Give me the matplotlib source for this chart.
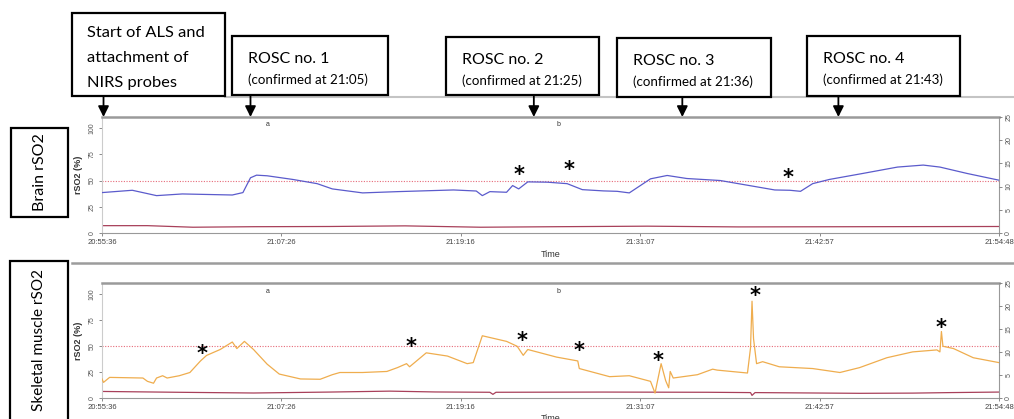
import numpy as np
import matplotlib
matplotlib.use("Agg")
import matplotlib.pyplot as plt
from matplotlib.patches import Rectangle
from matplotlib.lines import Line2D

# time axis: minutes after 20:55:36
t_end = 59.2
time_labels = ["20:55:36", "21:07:26", "21:19:16", "21:31:07", "21:42:57", "21:54:48"]

# brain rSO2 (%)
brain_t = [0, 2.0, 3.6, 5.3, 8.6, 9.3, 9.8, 10.2, 10.9, 12.6, 14.2, 15.2, 17.2, 19.5,
           23.2, 24.7, 25.1, 25.6, 26.7, 27.1, 27.5, 28.1, 29.4, 30.7, 31.7, 33.1, 34.0,
           34.8, 36.2, 37.3, 38.6, 40.8, 42.8, 44.4, 45.4, 46.1, 46.9, 48.0, 50.2, 52.5,
           54.2, 55.3, 57.1, 59.2]
brain_v = [38.5, 40.7, 35.6, 37.2, 36.2, 38.5, 52.6, 55.1, 54.5, 51.0, 47.0, 42.0, 38.2, 39.4,
           41.0, 40.0, 35.6, 39.4, 38.8, 45.2, 42.0, 48.7, 48.4, 47.0, 41.3, 40.1, 39.7,
           38.2, 51.6, 54.8, 51.9, 50.0, 45.0, 41.0, 40.7, 39.7, 47.0, 51.0, 56.7, 62.8,
           64.7, 62.8, 56.7, 50.3]
brain_base_t = [0, 3, 6, 10, 15, 20, 25, 30, 36, 42, 50, 59.2]
brain_base_v = [7.0, 7.0, 5.5, 6.0, 6.2, 6.8, 5.5, 6.0, 6.5, 5.8, 6.0, 6.2]

# skeletal muscle rSO2 (%)
muscle_t = [0, 0.1, 0.5, 2.7, 3.0, 3.4, 3.6, 4.0, 4.3, 5.1, 5.8, 6.5, 6.9, 7.8, 8.6, 8.9,
            9.4, 10.0, 10.9, 11.7, 13.1, 14.4, 15.2, 15.7, 17.2, 18.8, 19.5, 20.1, 20.3,
            21.4, 22.8, 24.1, 24.5, 25.1, 26.7, 27.4, 27.8, 28.1, 30.0, 31.4, 31.5, 33.5,
            34.8, 36.2, 36.5, 36.6, 36.9, 37.2, 37.4, 37.5, 37.7, 39.3, 40.3, 40.6, 42.6,
            42.8, 42.9, 43.0, 43.2, 43.6, 44.7, 46.9, 48.7, 50.0, 51.8, 53.5, 55.1, 55.3,
            55.4, 55.5, 56.2, 57.5, 59.2]
muscle_v = [18.3, 15.0, 19.8, 19.2, 16.0, 14.2, 19.2, 21.4, 19.2, 21.4, 24.5, 35.6, 40.9,
            46.6, 53.8, 47.5, 54.4, 46.6, 32.5, 23.0, 18.3, 18.0, 22.4, 24.5, 24.5, 25.5,
            29.2, 33.0, 30.0, 43.4, 40.3, 33.0, 34.0, 59.8, 54.4, 49.7, 41.0, 46.6, 39.3,
            35.6, 28.3, 20.5, 21.4, 16.0, 4.7, 12.0, 33.0, 16.7, 9.8, 25.5, 19.2, 22.4,
            27.7, 26.8, 24.0, 48.0, 93.0, 57.0, 33.0, 34.9, 30.0, 28.3, 24.5, 29.2, 38.7,
            44.3, 46.2, 44.3, 63.9, 49.7, 47.5, 38.7, 34.0]
muscle_base_t = [0, 5, 10, 15, 19, 22, 25.6, 25.8, 26, 33, 40, 42.8, 42.9, 43.1, 50, 53.5, 56, 59.2]
muscle_base_v = [6.3, 5.5, 4.8, 5.7, 6.6, 5.8, 5.5, 3.5, 5.5, 5.7, 5.5, 5.2, 2.5, 5.2, 4.5, 4.7, 5.2, 5.7]

# asterisks marking artefacts
brain_star_t = [27.5, 30.8, 45.3]
brain_star_v = [62.5, 67.3, 59.6]
muscle_star_t = [6.6, 20.4, 27.7, 31.5, 36.7, 43.1, 55.4]
muscle_star_v = [49.7, 56.3, 62.0, 52.5, 43.1, 105.4, 74.2]

# ALS start and ROSC events
event_t = [0.1, 9.8, 28.5, 38.3, 48.6]

W, H = 1014, 419
fig = plt.figure(figsize=(W / 100, H / 100), dpi=100)


def px_rect(x0, y0, x1, y1):
    return [x0 / W, 1 - y1 / H, (x1 - x0) / W, (y1 - y0) / H]


def fx(x):
    return x / W


def fy(y):
    return 1 - y / H


tick_font = "Liberation Sans"
box_font = "Lato"


def panel(ax, t, v, color, base_t, base_v, star_t, star_v, ab_y):
    ax.plot(t, v, color=color, lw=0.9, zorder=3)
    ax.plot(base_t, base_v, color="#a8405a", lw=0.9, zorder=2)
    ax.axhline(50, color="#e66a78", ls=(0, (1, 1.4)), lw=0.8, zorder=1)
    ax.set_xlim(0, t_end)
    ax.set_ylim(0, 110.5)
    ax.set_xticks(np.linspace(0, t_end, 6))
    ax.set_xticklabels(time_labels, fontsize=5.5, family=tick_font, color="#444")
    ax.set_yticks([0, 25, 50, 75, 100])
    ax.set_yticklabels(["0", "25", "50", "75", "100"], fontsize=5, family=tick_font,
                       color="#555", rotation=90, va="center")
    ax.set_ylabel("rSO2 (%)", fontsize=6.5, family=tick_font, color="#333",
                  fontweight="bold", labelpad=4)
    ax.tick_params(length=2.5, width=0.6, color="#777", pad=2)
    for name, sp in ax.spines.items():
        sp.set_color("#999")
        sp.set_linewidth(0.8)
    ax.spines["top"].set_linewidth(1.8)
    ax.spines["top"].set_color("#9a9a9a")
    ax.spines["left"].set_color("#cccccc")

    rax = ax.twinx()
    rax.set_ylim(0, 25)
    rax.set_yticks([0, 5, 10, 15, 20, 25])
    rax.set_yticklabels(["0", "5", "10", "15", "20", "25"], fontsize=5, family=tick_font,
                        color="#555", rotation=90, va="center")
    rax.tick_params(length=2.5, width=0.6, color="#777", pad=2)
    for sp in rax.spines.values():
        sp.set_visible(False)

    for st, sv in zip(star_t, star_v):
        ax.annotate("*", (st, sv), xytext=(0, -5.5), textcoords="offset points",
                    ha="center", va="center", fontsize=15, fontweight="bold",
                    family="DejaVu Sans", annotation_clip=False, zorder=5)
    ax.text(10.95, ab_y, "a", fontsize=5, family=tick_font, color="#333",
            ha="center", va="center")
    ax.text(30.1, ab_y, "b", fontsize=5, family=tick_font, color="#333",
            ha="center", va="center")


ax1 = fig.add_axes(px_rect(102, 117, 999, 233))
panel(ax1, brain_t, brain_v, "#5b5bcc", brain_base_t, brain_base_v,
      brain_star_t, brain_star_v, 103.5)
ax1.set_xlabel("Time", fontsize=6.5, family=tick_font, color="#333", labelpad=3)

ax2 = fig.add_axes(px_rect(102, 283, 999, 398))
panel(ax2, muscle_t, muscle_v, "#efad4e", muscle_base_t, muscle_base_v,
      muscle_star_t, muscle_star_v, 102.5)
ax2.set_xlabel("Time", fontsize=6.5, family=tick_font, color="#333", labelpad=2)

# separator lines
fig.add_artist(Line2D([fx(225), 1], [fy(97.5), fy(97.5)], transform=fig.transFigure,
                      color="#c4c4c4", lw=1.5, zorder=0))
fig.add_artist(Line2D([fx(72), 1], [fy(262.5), fy(262.5)], transform=fig.transFigure,
                      color="#9c9c9c", lw=1.8, zorder=0))

# event boxes above the chart
boxes = [
    ((72, 13, 225, 96), ["Start of ALS and", "attachment of", "NIRS probes"]),
    ((232, 36, 388, 95), ["ROSC no. 1", "(confirmed at 21:05)"]),
    ((446, 37, 599, 95), ["ROSC no. 2", "(confirmed at 21:25)"]),
    ((617, 38, 771, 97), ["ROSC no. 3", "(confirmed at 21:36)"]),
    ((807, 36, 960, 96), ["ROSC no. 4", "(confirmed at 21:43)"]),
]
for (x0, y0, x1, y1), lines in boxes:
    fig.add_artist(Rectangle((fx(x0), fy(y1)), (x1 - x0) / W, (y1 - y0) / H,
                             transform=fig.transFigure, facecolor="white",
                             edgecolor="black", lw=1.6, zorder=4))
    if len(lines) == 3:
        for i, s in enumerate(lines):
            fig.text(fx(x0 + 15), fy(y0 + 20 + 25 * i), s, fontsize=11.8,
                     family=box_font, va="center", ha="left", zorder=5)
    else:
        fig.text(fx(x0 + 16), fy(y0 + 23), lines[0], fontsize=11.5,
                 family=box_font, va="center", ha="left", zorder=5)
        fig.text(fx(x0 + 16), fy(y0 + 44), lines[1], fontsize=9.6,
                 family=box_font, va="center", ha="left", zorder=5)

# arrows pointing at the event times
box_bottoms = [96, 95, 95, 97, 96]
for et, yb in zip(event_t, box_bottoms):
    ax1.annotate("", xy=(et, fy(117)), xycoords=("data", "figure fraction"),
                 xytext=(et, fy(yb)), textcoords=("data", "figure fraction"),
                 arrowprops=dict(arrowstyle="-|>", color="black", lw=1.3,
                                 mutation_scale=16, shrinkA=0, shrinkB=0),
                 annotation_clip=False, zorder=6)

# row titles on the left
fig.add_artist(Rectangle((fx(11), fy(217)), 57 / W, 89 / H, transform=fig.transFigure,
                         facecolor="white", edgecolor="black", lw=1.6))
fig.text(fx(39.5), fy(172), "Brain rSO2", rotation=90, fontsize=11.5, family=box_font,
         ha="center", va="center")
fig.add_artist(Rectangle((fx(10), fy(430)), 58 / W, 169 / H, transform=fig.transFigure,
                         facecolor="white", edgecolor="black", lw=1.6))
fig.text(fx(39), fy(340), "Skeletal muscle rSO2", rotation=90, fontsize=11,
         family=box_font, ha="center", va="center")

fig.savefig("out.png", dpi=100)
